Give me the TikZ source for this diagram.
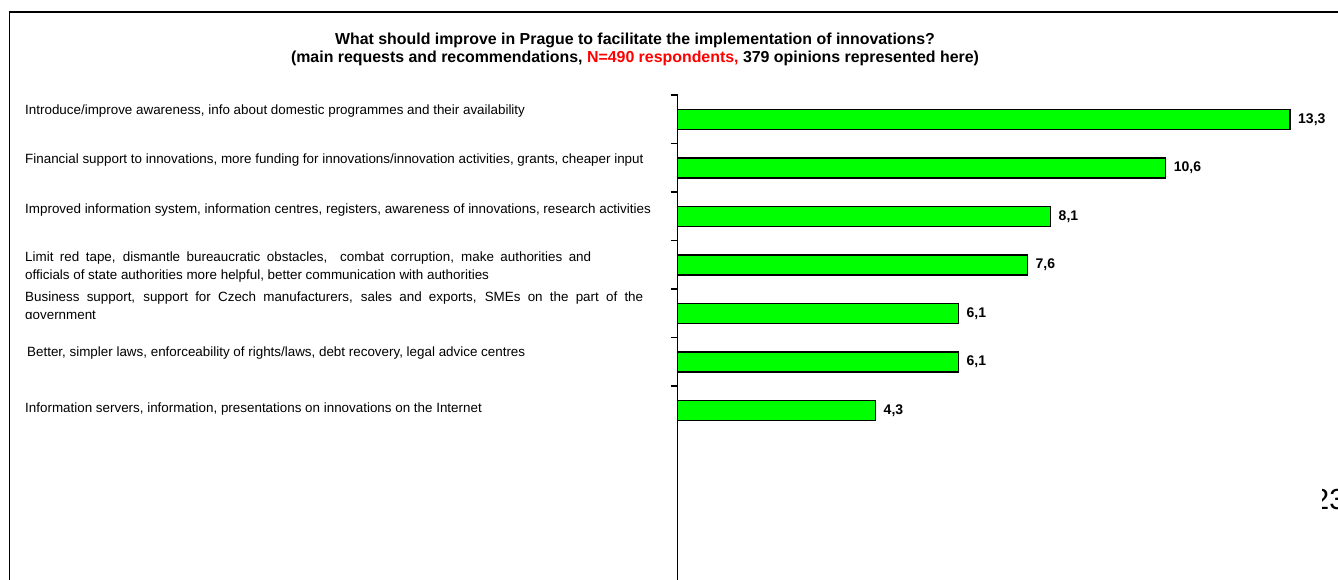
\documentclass[tikz,border=0pt]{standalone}
\usepackage{fontspec}
\setmainfont{Liberation Sans}
\definecolor{barfill}{RGB}{0,255,0}
\definecolor{hlred}{RGB}{255,0,0}

\begin{document}
\begin{tikzpicture}
    [
        x = 1pt, y = -1pt,
        cat/.style = {anchor = west, inner sep = 0pt, font = \fontsize{13.4}{18}\selectfont},
        bar/.style = {draw, fill = barfill, line width = 1.6pt},
        val/.style = {anchor = west, inner sep = 0pt, font = \bfseries\fontsize{14}{16}\selectfont},
        tickmark/.style = {line width = 1.6pt}
    ]

    \useasboundingbox (0,0) rectangle (1338,580);
    \clip (0,0) rectangle (1338,580);

    \draw[line width = 2.2pt] (8.5,12) -- (1338,12);
    \draw[line width = 1.5pt] (9.5,11) -- (9.5,580);

    \node[align = center, font = \bfseries\fontsize{15.9}{18}\selectfont] (title) at (635,49)
        {What should improve in Prague to facilitate the implementation of innovations?\\
         (main requests and recommendations, \textcolor{hlred}{N=490 respondents,} 379 opinions represented here)};

    \node[cat] (cat1) at (25,111) {Introduce/improve awareness, info about domestic programmes and their availability};
    \node[cat] (cat2) at (25,160) {Financial support to innovations, more funding for innovations/innovation activities, grants, cheaper input};
    \node[cat] (cat3) at (25,210) {Improved information system, information centres, registers, awareness of innovations, research activities};
    \node[cat, text width = 566pt, align = justify] (cat4) at (25,267.5)
        {Limit red tape, dismantle bureaucratic obstacles,\ \ combat corruption, make authorities and\linebreak
         officials of state authorities more helpful, better communication with authorities};
    \begin{scope}
        \clip (0,286) rectangle (676,318.5);
        \node[cat, text width = 618pt, align = justify, anchor = north west] (cat5) at (25,292)
            {Business support, support for Czech manufacturers, sales and exports, SMEs on the part of the\linebreak
             government};
    \end{scope}
    \node[cat] (cat6) at (27,353) {Better, simpler laws, enforceability of rights/laws, debt recovery, legal advice centres};
    \node[cat] (cat7) at (25,409) {Information servers, information, presentations on innovations on the Internet};

    \draw[line width = 1pt] (677.5,95) -- (677.5,580);
    \foreach \k in {0,...,6}
        \draw[tickmark] (670.5,95+\k*48.5) -- (677.5,95+\k*48.5);

    \foreach \v/\t [count = \i] in {13.3/{13,3}, 10.6/{10,6}, 8.1/{8,1}, 7.6/{7,6}, 6.1/{6,1}, 6.1/{6,1}, 4.3/{4,3}}
    {
        \draw[bar] (677.5,109.5+\i*48.5-48.5) rectangle (677.5+\v*46.05,129.5+\i*48.5-48.5);
        \node[val] (val\i) at (685.5+\v*46.05,119.5+\i*48.5-48.5) {\t};
    }

    \begin{scope}
        \clip (1322,470) rectangle (1338,530);
        \node[anchor = west, inner sep = 0pt, font = \fontsize{29}{30}\selectfont] (page) at (1313,499.5) {23};
    \end{scope}
\end{tikzpicture}
\end{document}
